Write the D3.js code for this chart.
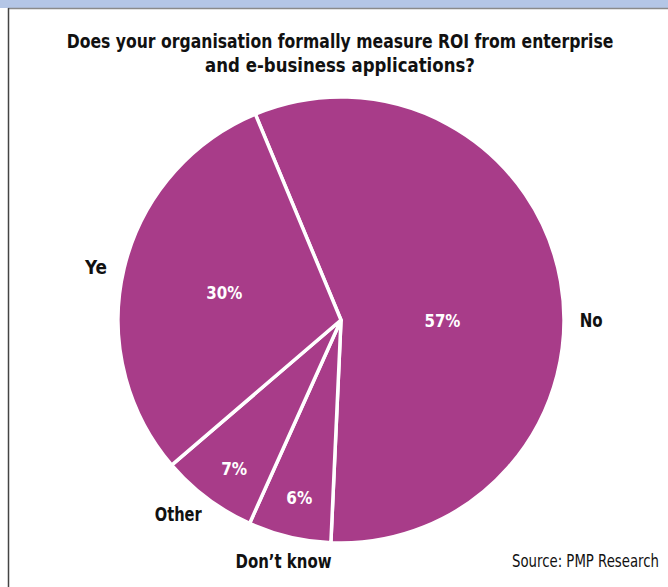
<!DOCTYPE html>
<html>
<head>
<meta charset="utf-8">
<script src="https://cdn.jsdelivr.net/npm/d3@7"></script>
<style>
  body { margin: 0; background: #fff; }
  svg text { font-family: "DejaVu Sans Condensed", "DejaVu Sans", sans-serif; font-stretch: condensed; font-weight: bold; }
</style>
</head>
<body>
<div id="chart"></div>
<script>
// Chart data
const categories = ["No", "Don\u2019t know", "Other", "Ye"];
const values = [57, 6, 7, 30];
const pctLabels = ["57%", "6%", "7%", "30%"];
const titleLines = [
    "Does your organisation formally measure ROI from enterprise",
    "and e-business applications?"
];
const source = "Source: PMP Research";

const width = 668, height = 587;
const cx = 341, cy = 320, radius = 223;

const svg = d3.select("#chart")
    .append("svg")
    .attr("width", width)
    .attr("height", height);

// squeeze a centred text horizontally to a target width (original face is condensed)
function squeeze(sel, x, y, w) {
    sel.attr("x", 0).attr("y", 0).attr("text-anchor", "middle");
    const natural = sel.node().getComputedTextLength();
    const k = Math.min(1, w / natural);
    sel.attr("transform", `translate(${x},${y}) scale(${k},1)`);
}

// top band + frame
svg.append("rect")
    .attr("x", 0).attr("y", 0)
    .attr("width", width).attr("height", 8)
    .attr("fill", "#b4c6e6");
svg.append("line")
    .attr("x1", 8).attr("x2", width)
    .attr("y1", 8.5).attr("y2", 8.5)
    .attr("stroke", "#8a8a8a").attr("stroke-width", 1.5);
svg.append("line")
    .attr("x1", 8.5).attr("x2", 8.5)
    .attr("y1", 8).attr("y2", height)
    .attr("stroke", "#444").attr("stroke-width", 1.5);

// title
const titleWidths = [547, 270];
titleLines.forEach((t, i) => {
    const txt = svg.append("text")
        .attr("font-size", 19.5)
        .attr("fill", "#111")
        .text(t);
    squeeze(txt, 340, 48 + i * 24, titleWidths[i]);
});

const startA = -22.6 * Math.PI / 180;
const pie = d3.pie()
    .sort(null)
    .value(d => d)
    .startAngle(startA)
    .endAngle(startA + 2 * Math.PI);

const arcs = pie(values);
const arc = d3.arc().innerRadius(0).outerRadius(radius);

const g = svg.append("g").attr("transform", `translate(${cx},${cy})`);

g.selectAll("path")
    .data(arcs)
    .join("path")
    .attr("d", arc)
    .attr("fill", "#a83c89")
    .attr("stroke", "#fff")
    .attr("stroke-width", 3.5)
    .attr("stroke-linejoin", "miter");

function polar(d, r, nudge) {
    const a = (d.startAngle + d.endAngle) / 2;
    return [Math.sin(a) * r + nudge[0], -Math.cos(a) * r + nudge[1]];
}

// percentage labels inside slices
const pctR = [103, 180, 185, 120];
const pctNudge = [[0, 18], [0, 2], [4, 0], [0, 0]];
g.selectAll("text.pct")
    .data(arcs)
    .join("text")
    .attr("class", "pct")
    .attr("dy", "0.35em")
    .attr("font-size", 18.5)
    .attr("fill", "#fff")
    .text((d, i) => pctLabels[i])
    .each(function (d, i) {
        const p = polar(d, pctR[i], pctNudge[i]);
        squeeze(d3.select(this), p[0], p[1], pctLabels[i].length === 3 ? 36 : 26);
    });

// category labels outside
const catR = [254, 248, 255, 252];
const catNudge = [[0, 44], [0, 0], [-10, -10], [0, 6]];
const catWidths = [23, 96, 47, 22];
g.selectAll("text.cat")
    .data(arcs)
    .join("text")
    .attr("class", "cat")
    .attr("dy", "0.35em")
    .attr("font-size", 19.5)
    .attr("fill", "#111")
    .text((d, i) => categories[i])
    .each(function (d, i) {
        const p = polar(d, catR[i], catNudge[i]);
        squeeze(d3.select(this), p[0], p[1], catWidths[i]);
    });

const src = svg.append("text")
    .attr("font-size", 17)
    .style("font-weight", "normal")
    .attr("fill", "#111")
    .text(source);
squeeze(src, 585.5, 567, 147);
</script>
</body>
</html>
